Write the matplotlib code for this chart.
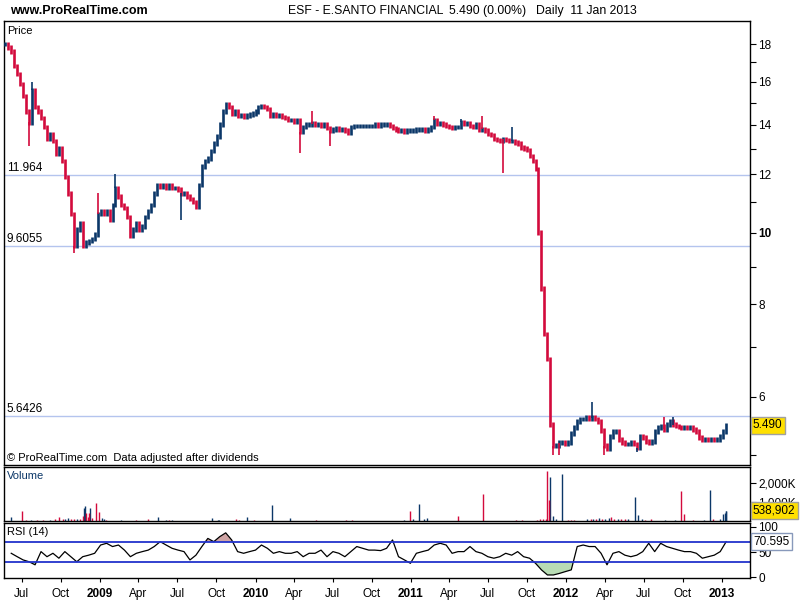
import matplotlib
matplotlib.use('Agg')
import matplotlib.pyplot as plt
from matplotlib.ticker import FixedLocator, NullFormatter
import numpy as np
import pandas as pd

plt.rcParams['font.family'] = ['Liberation Sans', 'DejaVu Sans']

# weekly closes (ESF, May 2008 -> 11 Jan 2013)
close = [
    18.0, 17.8, 17.6, 16.8, 16.4, 15.9, 15.3, 14.6, 14.1, 15.6,
    14.8, 14.6, 14.3, 13.9, 13.4, 13.6, 13.3, 12.8, 13.0, 12.5,
    11.9, 11.3, 10.6, 9.6, 10.1, 10.3, 9.6, 9.7, 9.75, 9.8,
    9.95, 10.6, 10.7, 10.6, 10.7, 10.4, 10.9, 11.5, 11.2, 10.9,
    10.8, 10.5, 9.9, 10.1, 10.3, 10.1, 10.2, 10.5, 10.7, 10.9,
    11.3, 11.6, 11.55, 11.6, 11.5, 11.6, 11.5, 11.5, 11.45, 11.3,
    11.3, 11.2, 11.1, 11.0, 10.85, 11.6, 12.3, 12.5, 12.6, 12.9,
    13.2, 13.5, 14.0, 14.6, 14.9, 14.8, 14.5, 14.6, 14.4, 14.4,
    14.35, 14.4, 14.45, 14.5, 14.6, 14.8, 14.85, 14.8, 14.7, 14.4,
    14.45, 14.4, 14.4, 14.35, 14.3, 14.2, 14.2, 14.15, 14.2, 13.7,
    13.9, 14.0, 14.0, 14.05, 14.0, 14.0, 13.95, 14.0, 13.85, 13.75,
    13.8, 13.85, 13.8, 13.8, 13.75, 13.65, 13.9, 13.95, 13.95, 13.95,
    13.95, 13.95, 13.95, 13.95, 14.0, 13.95, 14.0, 14.0, 14.0, 13.95,
    13.85, 13.8, 13.75, 13.75, 13.7, 13.75, 13.75, 13.75, 13.8, 13.8,
    13.8, 13.75, 13.8, 13.9, 14.2, 14.05, 14.05, 14.0, 13.95, 13.9,
    13.85, 13.9, 13.9, 14.1, 14.05, 14.05, 13.95, 13.9, 14.0, 13.8,
    13.8, 13.75, 13.6, 13.55, 13.4, 13.35, 13.3, 13.4, 13.35, 13.3,
    13.3, 13.25, 13.2, 13.05, 13.0, 12.95, 12.7, 12.5, 12.2, 10.0,
    8.4, 7.3, 6.75, 5.5, 5.15, 5.15, 5.2, 5.2, 5.18, 5.2,
    5.35, 5.45, 5.55, 5.6, 5.6, 5.62, 5.6, 5.62, 5.6, 5.55,
    5.4, 5.15, 5.1, 5.3, 5.38, 5.38, 5.25, 5.2, 5.18, 5.18,
    5.2, 5.18, 5.12, 5.3, 5.28, 5.22, 5.2, 5.22, 5.38, 5.45,
    5.48, 5.42, 5.5, 5.55, 5.5, 5.48, 5.46, 5.45, 5.46, 5.45,
    5.45, 5.42, 5.38, 5.28, 5.25, 5.25, 5.24, 5.26, 5.25, 5.25,
    5.3, 5.38, 5.49,
]

# isolated wicks (week index, extreme price, colour u=up/d=down)
wick_week = [8, 9, 23, 31, 37, 59, 99, 103, 109, 144, 153, 160, 167, 170, 184, 186, 197, 201, 212, 221, 224]
wick_val = [13.1, 16.0, 9.4, 11.3, 12.0, 10.4, 12.8, 14.6, 13.1, 14.4, 14.25, 14.4, 12.05, 13.9, 5.0, 5.0, 5.9, 5.0, 5.05, 5.64, 5.64]
wick_dir = ['d', 'u', 'd', 'd', 'u', 'u', 'd', 'd', 'd', 'd', 'u', 'd', 'd', 'u', 'd', 'd', 'u', 'd', 'u', 'd', 'u']

levels = [11.964, 9.6055, 5.6426]
level_labels = ['11.964', '9.6055', '5.6426']

# daily volume bars that are visible (thousands)
vol_dates = ['2008-06-05', '2008-07-02', '2008-07-10', '2008-07-22', '2008-08-05', '2008-08-20', '2008-09-05',
             '2008-09-18', '2008-09-26', '2008-10-06', '2008-10-10', '2008-10-17', '2008-10-24', '2008-10-31',
             '2008-11-07', '2008-11-14', '2008-11-21', '2008-11-25', '2008-11-27', '2008-11-28', '2008-12-03',
             '2008-12-05', '2008-12-08', '2008-12-12', '2008-12-23', '2008-12-30', '2009-01-05', '2009-01-09',
             '2009-01-14', '2009-02-20', '2009-03-27', '2009-04-24', '2009-05-18', '2009-06-05', '2009-06-12',
             '2009-06-19', '2009-09-21', '2009-10-05', '2009-10-08', '2009-11-16', '2009-11-24', '2009-12-11',
             '2009-12-28', '2010-02-09', '2010-03-23', '2010-05-24', '2010-08-02', '2010-08-16', '2010-12-15',
             '2010-12-29', '2011-01-05', '2011-01-21', '2011-01-31', '2011-02-08', '2011-04-22', '2011-06-20',
             '2011-09-06', '2011-09-20', '2011-10-25', '2011-11-01', '2011-11-08', '2011-11-14', '2011-11-18',
             '2011-11-22', '2011-11-25', '2011-11-30', '2011-12-09', '2011-12-23', '2012-01-05', '2012-01-13',
             '2012-01-20', '2012-02-20', '2012-02-28', '2012-03-05', '2012-03-12', '2012-03-19', '2012-03-26',
             '2012-04-02', '2012-04-10', '2012-04-16', '2012-04-23', '2012-05-01', '2012-05-10', '2012-05-18',
             '2012-05-25', '2012-06-11', '2012-06-18', '2012-06-27', '2012-07-05', '2012-07-19', '2012-08-20',
             '2012-09-12', '2012-09-26', '2012-10-04', '2012-10-25', '2012-11-20', '2012-12-05', '2012-12-12',
             '2012-12-27', '2013-01-03', '2013-01-08', '2013-01-10', '2013-01-11']
vol_k = [200, 530, 60, 70, 60, 50, 60,
         80, 230, 120, 100, 150, 90, 120,
         80, 100, 250, 670, 800, 400, 200,
         430, 670, 150, 970, 500, 150, 80,
         60, 30, 40, 120, 200, 60, 50,
         70, 180, 50, 60, 90, 60, 210,
         50, 850, 180, 60, 50, 50, 50,
         550, 80, 900, 130, 170, 280, 1440,
         60, 60, 60, 110, 90, 130, 2680,
         1100, 2360, 250, 120, 2500, 70, 60,
         70, 100, 80, 120, 90, 140, 100,
         90, 150, 200, 120, 100, 80, 90,
         80, 1280, 320, 120, 70, 90, 60,
         70, 1600, 350, 60, 70, 1650, 80,
         90, 380, 450, 520, 539]
vol_dir = ['u', 'd', 'd', 'u', 'd', 'd', 'u',
           'd', 'd', 'd', 'u', 'u', 'd', 'd',
           'u', 'd', 'd', 'u', 'u', 'd', 'd',
           'd', 'u', 'd', 'd', 'd', 'u', 'u',
           'd', 'u', 'd', 'd', 'u', 'u', 'd',
           'u', 'u', 'u', 'u', 'd', 'd', 'u',
           'd', 'u', 'u', 'd', 'd', 'd', 'u',
           'd', 'u', 'u', 'u', 'u', 'd', 'd',
           'd', 'd', 'd', 'd', 'd', 'd', 'd',
           'd', 'u', 'u', 'u', 'u', 'd', 'd',
           'd', 'u', 'd', 'u', 'd', 'u', 'd',
           'u', 'u', 'd', 'd', 'u', 'd', 'd',
           'u', 'u', 'u', 'u', 'd', 'd', 'u',
           'u', 'd', 'd', 'd', 'u', 'u', 'd',
           'u', 'u', 'u', 'u', 'u']

# RSI(14), sampled every two weeks
rsi = [
    47.7, 41, 34.6, 31, 25, 51, 41, 47.7, 38, 51,
    41, 31, 41, 44, 47.7, 64, 67.4, 61, 64, 54,
    41, 47.7, 51, 54, 61, 70.6, 64, 57.5, 54, 51,
    34.6, 44, 61, 77, 70.6, 80.5, 88, 74, 51, 47.7,
    51, 54, 64, 57.5, 47.7, 51, 47.7, 47.7, 51, 41,
    47.7, 47.7, 54, 41, 51, 47.7, 41, 51, 61, 57.5,
    54, 54,
    53, 57.5, 74, 41, 34.6, 28, 47.7, 51, 54, 64,
    67.4, 64, 47.7, 51, 51, 61, 51, 47.7, 41, 38,
    41, 47.7, 44, 51, 41, 38, 28, 15, 5, 5,
    8, 11.6, 15, 61, 64, 61, 61, 47.7, 25, 47.7,
    51, 44, 41, 44, 51, 67.4, 51, 67.4, 61, 57.5,
    54, 51, 51, 47.7, 38, 41, 44, 51, 70.6,
]

quarters = ['2008-07-01', '2008-10-01', '2009-01-01', '2009-04-01', '2009-07-01', '2009-10-01',
            '2010-01-01', '2010-04-01', '2010-07-01', '2010-10-01', '2011-01-01', '2011-04-01',
            '2011-07-01', '2011-10-01', '2012-01-01', '2012-04-01', '2012-07-01', '2012-10-01',
            '2013-01-01']
quarter_labels = ['Jul', 'Oct', '2009', 'Apr', 'Jul', 'Oct', '2010', 'Apr', 'Jul', 'Oct', '2011',
                  'Apr', 'Jul', 'Oct', '2012', 'Apr', 'Jul', 'Oct', '2013']

UP = '#0b3768'
DOWN = '#d30a3c'
BAR_PAD = 0.007   # bars drawn a little taller than the close-to-close move

dates = pd.date_range(end='2013-01-11', periods=len(close), freq='W-FRI')
close = np.array(close)
prev = np.r_[close[0], close[:-1]]
lo = np.minimum(prev, close) * (1 - BAR_PAD)
hi = np.maximum(prev, close) * (1 + BAR_PAD)
rsi_dates = pd.date_range(end='2013-01-11', periods=len(rsi), freq='2W-FRI')
rsi = np.array(rsi)

fig = plt.figure(figsize=(8, 6), dpi=100)
ax_p = fig.add_axes([4/800, 1-465/600, 746/800, 444/600])
ax_v = fig.add_axes([4/800, 1-521/600, 746/800, 54/600])
ax_r = fig.add_axes([4/800, 1-578/600, 746/800, 55/600])

xmin, xmax = pd.Timestamp('2008-05-20'), pd.Timestamp('2013-03-08')
for ax in (ax_p, ax_v, ax_r):
    ax.set_xlim(xmin, xmax)
    ax.yaxis.tick_right()
    ax.tick_params(axis='y', length=4, width=0.8, pad=2, labelsize=8.5)
    for s in ax.spines.values():
        s.set_linewidth(1)
        s.set_color('black')

# ---- price panel
ax_p.set_yscale('log')
ax_p.set_ylim(4.85, 19.34)
for lv, lab in zip(levels, level_labels):
    ax_p.axhline(lv, color='#b4c4ee', lw=1, zorder=1)
    ax_p.text(pd.Timestamp('2008-05-27'), lv * 1.003, lab, fontsize=8.5, va='bottom', ha='left')

up = close >= prev
ax_p.vlines(dates[up], lo[up], hi[up], color=UP, lw=1.9, zorder=3)
ax_p.vlines(dates[~up], lo[~up], hi[~up], color=DOWN, lw=1.9, zorder=3)
for w, v, d in zip(wick_week, wick_val, wick_dir):
    ax_p.vlines(dates[w], close[w], v, color=UP if d == 'u' else DOWN, lw=1.2, zorder=3)

ax_p.yaxis.set_major_locator(FixedLocator([6, 8, 10, 12, 14, 16, 18]))
ax_p.yaxis.set_major_formatter(plt.FuncFormatter(lambda v, p: '%d' % round(v)))
ax_p.yaxis.set_minor_locator(FixedLocator([5, 7, 9, 11, 13, 15, 17]))
ax_p.yaxis.set_minor_formatter(NullFormatter())
ax_p.tick_params(axis='y', which='minor', length=4, width=0.8)
for t in ax_p.get_yticklabels():
    if t.get_text() == '10':
        t.set_fontweight('bold')
ax_p.set_xticks([])
ax_p.text(0.004, 0.988, 'Price', transform=ax_p.transAxes, fontsize=8, va='top')
ax_p.text(0.004, 0.005, '\u00a9 ProRealTime.com  Data adjusted after dividends', transform=ax_p.transAxes,
          fontsize=8, va='bottom')
ax_p.text(1.004, close[-1], '%.3f' % close[-1], transform=ax_p.get_yaxis_transform(), fontsize=8.5,
          va='center', ha='left', bbox=dict(boxstyle='square,pad=0.2', fc='#ffe000', ec='#a0a0a0', lw=1))

# ---- volume panel
vd = pd.to_datetime(vol_dates)
vk = np.array(vol_k)
vup = np.array([d == 'u' for d in vol_dir])
ax_v.vlines(vd[vup], 0, vk[vup], color=UP, lw=1)
ax_v.vlines(vd[~vup], 0, vk[~vup], color=DOWN, lw=1)
ax_v.set_ylim(0, 2870)
ax_v.set_yticks([1000, 2000])
ax_v.set_yticklabels(['1,000K', '2,000K'])
ax_v.set_xticks([])
ax_v.text(0.004, 0.93, 'Volume', transform=ax_v.transAxes, fontsize=8, va='top', color='#0b3768')
ax_v.text(1.004, vk[-1], '538,902', transform=ax_v.get_yaxis_transform(), fontsize=8.5, va='center',
          ha='left', zorder=5, bbox=dict(boxstyle='square,pad=0.2', fc='#ffe000', ec='#a0a0a0', lw=1))

# ---- RSI panel
ax_r.set_ylim(-1, 107.4)
ax_r.fill_between(rsi_dates, rsi, 70, where=rsi > 70, interpolate=True, color='#cfa4a4', lw=0)
ax_r.fill_between(rsi_dates, rsi, 30, where=rsi < 30, interpolate=True, color='#b8dcb4', lw=0)
ax_r.plot(rsi_dates, rsi, color='black', lw=0.9)
ax_r.axhline(70, color='#2233cc', lw=1.3)
ax_r.axhline(30, color='#2233cc', lw=1.3)
ax_r.set_yticks([0, 50, 100])
ax_r.text(0.004, 0.93, 'RSI (14)', transform=ax_r.transAxes, fontsize=8, va='top')
ax_r.text(1.004, rsi[-1], '70.595', transform=ax_r.get_yaxis_transform(), fontsize=8.5, va='center',
          ha='left', zorder=5, bbox=dict(boxstyle='square,pad=0.2', fc='white', ec='#8899bb', lw=1))

ax_r.set_xticks(pd.to_datetime(quarters))
ax_r.set_xticklabels(quarter_labels, fontsize=8.5)
ax_r.tick_params(axis='x', length=3, pad=4)
for t in ax_r.get_xticklabels():
    if t.get_text().isdigit():
        t.set_fontweight('bold')

fig.text(10/800, 1-11/600, 'www.ProRealTime.com', fontsize=9, fontweight='bold', va='center')
fig.text(288/800, 1-11/600, 'ESF - E.SANTO FINANCIAL', fontsize=8.8, va='center')
fig.text(449/800, 1-11/600, '5.490 (0.00%)', fontsize=8.8, va='center')
fig.text(536/800, 1-11/600, 'Daily  11 Jan 2013', fontsize=8.8, va='center')

fig.savefig('out.png', dpi=100)
